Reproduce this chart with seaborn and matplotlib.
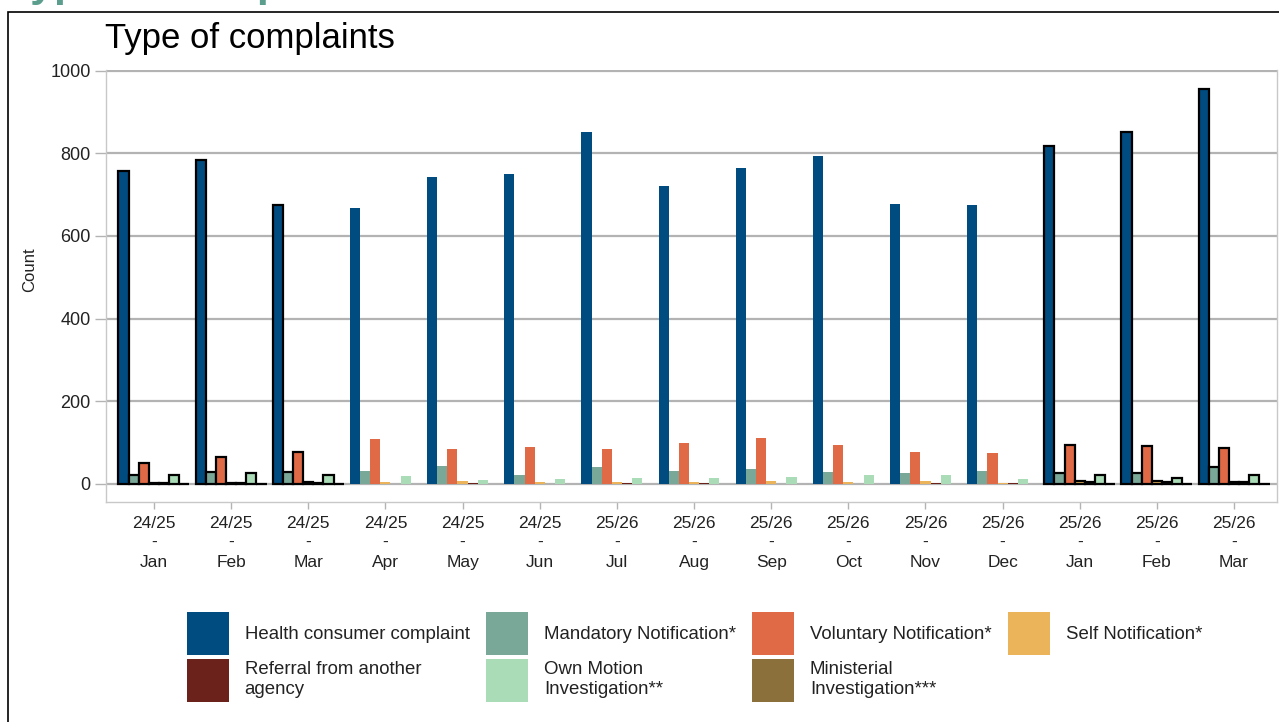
import matplotlib
matplotlib.use("Agg")
import matplotlib.pyplot as plt
import matplotlib.patches as mpatches
import seaborn as sns
import pandas as pd

# ---- data ----
months = ["24/25\n-\nJan", "24/25\n-\nFeb", "24/25\n-\nMar", "24/25\n-\nApr",
          "24/25\n-\nMay", "24/25\n-\nJun", "25/26\n-\nJul", "25/26\n-\nAug",
          "25/26\n-\nSep", "25/26\n-\nOct", "25/26\n-\nNov", "25/26\n-\nDec",
          "25/26\n-\nJan", "25/26\n-\nFeb", "25/26\n-\nMar"]
types = ["Health consumer complaint", "Mandatory Notification*",
         "Voluntary Notification*", "Self Notification*",
         "Referral from another\nagency", "Own Motion\nInvestigation**",
         "Ministerial\nInvestigation***"]
health = [758, 784, 676, 668, 743, 749, 852, 722, 764, 793, 677, 676, 818, 852, 957]
mandatory = [21, 28, 29, 30, 42, 21, 40, 30, 35, 28, 25, 31, 25, 27, 40]
voluntary = [51, 64, 78, 108, 84, 90, 85, 99, 110, 94, 77, 75, 94, 92, 87]
self_notif = [1, 1, 5, 3, 6, 4, 3, 4, 6, 3, 7, 1, 6, 7, 5]
referral = [2, 1, 2, 0, 2, 0, 2, 1, 0, 0, 2, 1, 3, 5, 3]
own_motion = [21, 26, 21, 19, 9, 11, 15, 15, 17, 20, 21, 11, 22, 15, 22]
ministerial = [0, 0, 0, 0, 0, 0, 0, 0, 0, 0, 0, 0, 0, 0, 0]
highlight = [0, 1, 2, 12, 13, 14]  # month indices with black outline
colors = ["#004B80", "#7AA898", "#E06A45", "#EBB45A", "#6A221A", "#AADCB8", "#8C703C"]

series = [health, mandatory, voluntary, self_notif, referral, own_motion, ministerial]
rows = []
for t, vals in zip(types, series):
    for m, v in zip(months, vals):
        rows.append({"month": m, "type": t, "count": v})
df = pd.DataFrame(rows)

sns.set_theme(style="white")
plt.rcParams["font.family"] = ["Liberation Sans", "DejaVu Sans"]

W, H = 1279, 722
fig = plt.figure(figsize=(W / 100, H / 100), dpi=100)
ax_left, ax_right, ax_top, ax_bot = 106, 1277, 70, 502
ax = fig.add_axes([ax_left / W, 1 - ax_bot / H, (ax_right - ax_left) / W, (ax_bot - ax_top) / H])

sns.barplot(data=df, x="month", y="count", hue="type", hue_order=types,
            order=months, palette=colors, width=0.92, saturation=1,
            errorbar=None, legend=False, ax=ax, zorder=3)

for p in ax.patches:
    cx = p.get_x() + p.get_width() / 2
    idx = int(round(cx))
    if idx in highlight:
        p.set_edgecolor("black")
        p.set_linewidth(1.6)
    else:
        p.set_linewidth(0)

ax.set_ylim(-44.3, 1002)
ax.set_xlim(-0.622, 14.557)
ax.set_yticks([0, 200, 400, 600, 800, 1000])
ax.yaxis.grid(True, color="#b3b3b3", linewidth=1.6, zorder=0)
ax.xaxis.grid(False)
ax.set_axisbelow(True)
ax.set_xlabel("")
ax.set_ylabel("")
for side in ["left", "bottom", "right"]:
    ax.spines[side].set_color("#c8c8c8")
    ax.spines[side].set_linewidth(1.0)
ax.spines["top"].set_visible(False)
ax.tick_params(axis="y", length=8, width=1, color="#b3b3b3", pad=3,
               labelsize=13, labelcolor="#222222", left=True)
ax.tick_params(axis="x", length=5, width=1, color="#b3b3b3", pad=5,
               labelsize=12.5, labelcolor="#222222", bottom=True)
for lbl in ax.get_xticklabels():
    lbl.set_linespacing(1.36)

fig.text(30 / W, 1 - 270 / H, "Count", rotation=90, ha="center", va="center",
         fontsize=12, color="#222222")
fig.text(105 / W, 1 - 48 / H, "Type of complaints", ha="left", va="baseline",
         fontsize=25, color="black")
# cut-off page header above the frame (as in the reference)
fig.text(7 / W, 1 + 4 / H, "Type of complaints", ha="left", va="baseline",
         fontsize=31, fontweight="bold", color="#5B9E8E")

# frame
fig.patches.append(mpatches.Rectangle((8 / W, -0.05), 1.2, 1 - 12 / H + 0.05,
                                      transform=fig.transFigure, fill=False,
                                      edgecolor="black", linewidth=1.2))

handles = [mpatches.Patch(facecolor=c, edgecolor="none", label=t) for c, t in zip(colors, types)]
order = [0, 4, 1, 5, 2, 6, 3]
fig.legend([handles[i] for i in order], [types[i] for i in order],
           loc="upper left", bbox_to_anchor=(187 / W, 1 - 612 / H),
           ncol=4, frameon=False, fontsize=13.4, handlelength=2.25,
           handleheight=3.2, handletextpad=0.85, columnspacing=0.88,
           labelspacing=0.2, borderpad=0, borderaxespad=0,
           labelcolor="#222222")

fig.savefig("out.png", dpi=100)
